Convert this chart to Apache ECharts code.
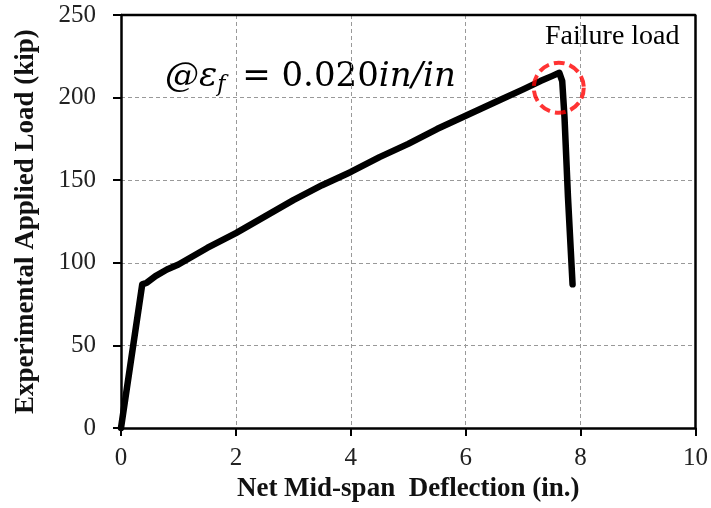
<!DOCTYPE html>
<html>
<head>
<meta charset="utf-8">
<script src="https://cdn.jsdelivr.net/npm/echarts@6/dist/echarts.min.js"></script>
<style>
  html, body { margin: 0; padding: 0; background: #fff; }
  #main { width: 711px; height: 508px; }
</style>
</head>
<body>
<div id="main"></div>
<script>
// load-deflection curve
var deflection = [0, 0.37, 0.45, 0.6, 0.8, 1.0, 1.5, 2.0, 2.5, 3.0, 3.5, 4.0, 4.5, 5.0, 5.5, 6.0, 6.5, 7.0, 7.3, 7.5, 7.63, 7.68, 7.72, 7.78, 7.86];
var load = [0, 87, 88, 92, 96, 99, 109, 118, 128, 138, 147, 155, 164, 172, 181, 189, 197, 205, 210, 213, 215, 210, 188, 140, 87];
var xTicks = [0, 2, 4, 6, 8, 10];
var yTicks = [0, 50, 100, 150, 200, 250];
var failurePoint = [7.62, 206];

var chart = echarts.init(document.getElementById('main'));
var serif = '"Liberation Serif", "DejaVu Serif", serif';

var curve = [];
for (var i = 0; i < deflection.length; i++) {
  curve.push([deflection[i], load[i]]);
}

var xMin = xTicks[0], xMax = xTicks[xTicks.length - 1];
var yMin = yTicks[0], yMax = yTicks[yTicks.length - 1];
// top and right edges of the plot box
var frame = [[xMin, yMax], [xMax, yMax], [xMax, yMin]];

var labelStyle = { fontFamily: serif, fontSize: 25, color: '#222' };
var nameStyle = { fontFamily: serif, fontSize: 27, fontWeight: 'bold', color: '#111' };
var gridDash = { color: '#999', type: [4, 3], width: 1 };
var frameLine = { color: '#000', width: 2.5 };

var option = {
  animation: false,
  backgroundColor: '#fff',
  grid: { left: 121, right: 15, top: 15, bottom: 79 },
  xAxis: {
    type: 'value',
    min: xMin, max: xMax, interval: 2,
    name: 'Net Mid-span  Deflection (in.)',
    nameLocation: 'middle',
    nameGap: 46,
    nameTextStyle: nameStyle,
    axisLine: { onZero: false, lineStyle: frameLine },
    axisTick: { show: true, length: 8, lineStyle: { color: '#000', width: 2 } },
    axisLabel: Object.assign({ margin: 18 }, labelStyle),
    splitLine: { lineStyle: gridDash }
  },
  yAxis: {
    type: 'value',
    min: yMin, max: yMax, interval: 50,
    name: 'Experimental Applied Load (kip)',
    nameLocation: 'middle',
    nameGap: 81,
    nameTextStyle: nameStyle,
    axisLine: { show: true, onZero: false, lineStyle: frameLine },
    axisTick: { show: true, length: 8, lineStyle: { color: '#000', width: 2 } },
    axisLabel: Object.assign({ margin: 25 }, labelStyle),
    splitLine: { lineStyle: gridDash }
  },
  series: [
    {
      type: 'line',
      data: frame,
      clip: false,
      silent: true,
      showSymbol: false,
      symbol: 'none',
      lineStyle: { color: '#000', width: 2.5 },
      z: 5
    },
    {
      type: 'line',
      data: curve,
      showSymbol: false,
      lineStyle: { color: '#000', width: 6.5, cap: 'round', join: 'round' },
      z: 3
    },
    {
      type: 'scatter',
      data: [failurePoint],
      symbol: 'circle',
      symbolSize: 50,
      itemStyle: { color: 'rgba(0,0,0,0)', borderColor: '#ff0000', borderWidth: 4, borderType: [11, 5] },
      z: 4
    }
  ],
  graphic: [
    {
      type: 'text',
      left: 545, top: 23,
      style: { text: 'Failure load', font: '28px ' + serif, fill: '#000' }
    },
    {
      type: 'text',
      left: 165, top: 60,
      style: {
        text: '{i|@\u03b5}{s|f}{n| = 0.020}{i|in/in}',
        rich: {
          i: { fontFamily: '"DejaVu Serif", serif', fontStyle: 'italic', fontSize: 34, fill: '#000' },
          s: { fontFamily: '"DejaVu Serif", serif', fontStyle: 'italic', fontSize: 22, fill: '#000', padding: [16, 6, 0, 0] },
          n: { fontFamily: '"DejaVu Serif", serif', fontSize: 34, fill: '#000' }
        }
      }
    }
  ]
};

chart.setOption(option);
</script>
</body>
</html>
